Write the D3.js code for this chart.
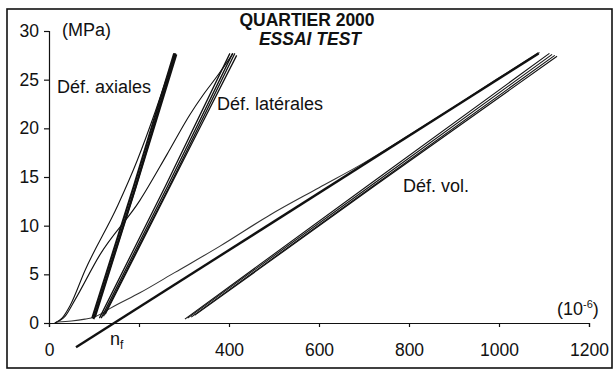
<!DOCTYPE html>
<html><head><meta charset="utf-8">
<script src="https://cdn.jsdelivr.net/npm/d3@7"></script>
<style>
body{margin:0;background:#fff;}
svg text{font-family:Arial,"Liberation Sans",sans-serif;fill:#111;}
</style></head>
<body><svg id="c" width="615" height="371"></svg>
<script>
// ---- data (strain in 1e-6, stress in MPa) ----
const xTicks = [0, 200, 400, 600, 800, 1000, 1200];
const xTickLabels = ["0", "", "400", "600", "800", "1000", "1200"];
const yTicks = [0, 5, 10, 15, 20, 25, 30];
const yTickLabels = ["0", "5", "10", "15", "20", "25", "30"];

const axialFirst = [[13,0],[29,0.5],[47,1.8],[80,5.4],[153,12.1],[196,16.7],[236,21.7],[258,24.7],[280,27.7]];
const lateralFirst = [[13,0],[36,0.7],[58,2.4],[113,7.0],[202,12.6],[262,17.3],[313,21.4],[342,23.4],[376,25.5],[409,27.7]];
const volFirst = [[18,0.1],[50,0.2],[80,0.4],[100,0.6],[118,1.0],[136,1.5],[202,3.1],[280,5.2],[380,7.9],[491,11.1],[600,13.9],[698,16.4],[800,19.3],[900,22.2],[1000,25.2],[1090,27.8]];

const axialCycle1 = [[96,0.5],[188,14.0],[278,27.7]];
const axialCycle2 = [[99,0.4],[191,13.8],[281,27.7]];
const axialCycle3 = [[102,0.6],[193,14.0],[283,27.6]];

const lateralCycle1 = [[112,0.5],[258,14.0],[402,27.7]];
const lateralCycle2 = [[116,0.5],[263,14.0],[408,27.7]];
const lateralCycle3 = [[121,0.7],[268,14.1],[413,27.7]];
const lateralCycle4 = [[125,0.9],[271,14.2],[417,27.5]];

const volCycle1 = [[302,0.4],[705,14.0],[1112,27.7]];
const volCycle2 = [[308,0.5],[712,14.0],[1118,27.6]];
const volCycle3 = [[316,0.6],[718,14.0],[1124,27.5]];
const volCycle4 = [[324,0.8],[724,14.1],[1129,27.4]];

const nfLine = [[60,-2.5],[1088,27.7]];

// ---- drawing ----
const svg = d3.select("#c");
const x = d3.scaleLinear().domain([0,1200]).range([49,589]);
const y = d3.scaleLinear().domain([0,30]).range([323,31]);

svg.append("rect").attr("x",7).attr("y",9).attr("width",605).attr("height",359)
  .attr("fill","none").attr("stroke","#111").attr("stroke-width",1.6);

// axes
const yAxis = svg.append("g").attr("transform",`translate(${x(0)},0)`)
  .call(d3.axisLeft(y).tickValues(yTicks).tickFormat((d,i)=>yTickLabels[i]).tickSize(5).tickPadding(5));
const xAxis = svg.append("g").attr("transform",`translate(0,${y(0)})`)
  .call(d3.axisBottom(x).tickValues(xTicks).tickFormat((d,i)=>xTickLabels[i]).tickSize(4).tickPadding(13));
[yAxis,xAxis].forEach(g=>{
  g.select(".domain").attr("stroke","#111").attr("stroke-width",1.2);
  g.selectAll(".tick line").attr("stroke","#111").attr("stroke-width",1.2);
  g.selectAll(".tick text").attr("font-size",17.5).attr("fill","#111")
   .style("font-family",'Arial,"Liberation Sans",sans-serif');
});
xAxis.selectAll(".tick text").attr("dy","0.9em");

const line = d3.line().x(d=>x(d[0])).y(d=>y(d[1])).curve(d3.curveMonotoneX);
function draw(data, w, color){
  svg.append("path").datum(data).attr("d",line).attr("fill","none")
    .attr("stroke",color||"#111").attr("stroke-width",w).attr("stroke-linejoin","round");
}
draw(axialFirst,1.1);
draw(lateralFirst,1.1);
draw(volFirst,1.1,"#333");
[axialCycle1,axialCycle2,axialCycle3].forEach(d=>draw(d,2.0));
[lateralCycle1,lateralCycle2,lateralCycle3,lateralCycle4].forEach(d=>draw(d,1.3));
[volCycle1,volCycle2,volCycle3,volCycle4].forEach(d=>draw(d,1.1));
draw(nfLine,2.4);

// texts
function txt(s,xp,yp,opts={}){
  const t = svg.append("text").attr("x",xp).attr("y",yp).attr("font-size",opts.size||18)
    .attr("text-anchor",opts.anchor||"start");
  if(opts.bold) t.attr("font-weight","bold");
  if(opts.italic) t.attr("font-style","italic");
  t.text(s);
  return t;
}
txt("QUARTIER 2000",307,26,{bold:true,anchor:"middle",size:17.5});
txt("ESSAI TEST",310,45,{bold:true,italic:true,anchor:"middle",size:17.5});
txt("(MPa)",62,36);
txt("Déf. axiales",57,93);
txt("Déf. latérales",217,110);
txt("Déf. vol.",403,192);
const u = txt("(10",557,315);
u.append("tspan").attr("dy",-7).attr("font-size",11).text("-6");
u.append("tspan").attr("dy",7).text(")");
const n = txt("n",110,345);
n.append("tspan").attr("dy",4).attr("font-size",12).text("f");
</script>
</body></html>
